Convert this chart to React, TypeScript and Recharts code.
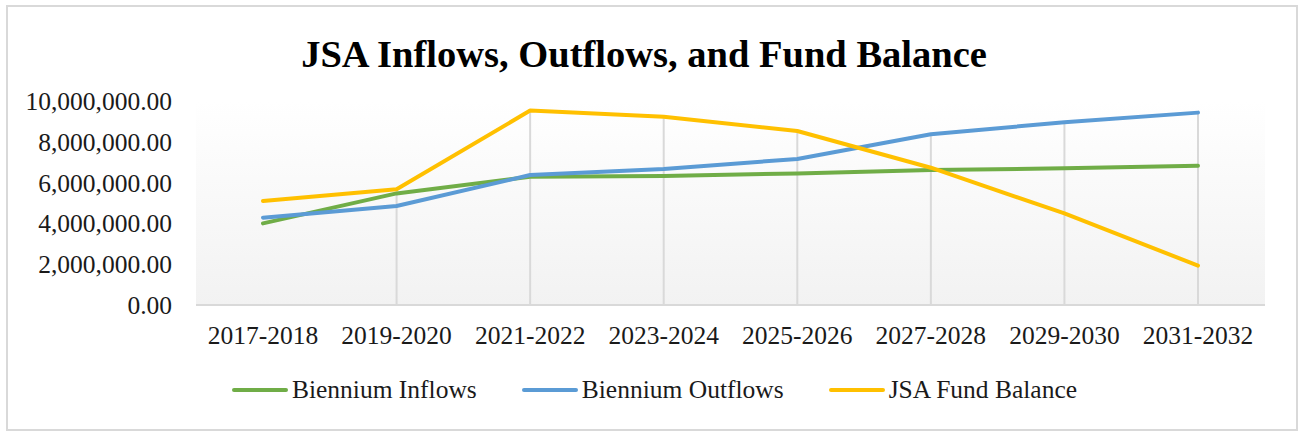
import { LineChart, Line, XAxis, YAxis, CartesianGrid, Legend, ReferenceLine } from 'recharts';

const categories = ['2017-2018', '2019-2020', '2021-2022', '2023-2024', '2025-2026', '2027-2028', '2029-2030', '2031-2032'];
const inflows = [4000000, 5470000, 6290000, 6320000, 6450000, 6620000, 6700000, 6830000];
const outflows = [4280000, 4850000, 6370000, 6670000, 7160000, 8370000, 8960000, 9430000];
const balance = [5100000, 5670000, 9530000, 9230000, 8530000, 6730000, 4490000, 1930000];
const yTicks = [0, 2000000, 4000000, 6000000, 8000000, 10000000];

const SERIES = [
  { key: 'inflows', name: 'Biennium Inflows', color: '#70ad47' },
  { key: 'outflows', name: 'Biennium Outflows', color: '#5b9bd5' },
  { key: 'balance', name: 'JSA Fund Balance', color: '#ffc000' },
];

const FONT = '"Liberation Serif", "Times New Roman", serif';

const data = categories.map((cat, i) => ({
  cat,
  inflows: inflows[i],
  outflows: outflows[i],
  balance: balance[i],
  top: Math.max(inflows[i], outflows[i], balance[i]),
}));

const fmt = (v: number) =>
  v.toLocaleString('en-US', { minimumFractionDigits: 2, maximumFractionDigits: 2 });

const renderLegend = () => (
  <div style={{ display: 'flex', justifyContent: 'center', alignItems: 'center', height: 40, fontFamily: FONT, fontSize: 25.5, color: '#1a1a1a', paddingLeft: 38 }}>
    {SERIES.map((s, i) => (
      <div key={s.key} style={{ display: 'flex', alignItems: 'center', marginLeft: i === 0 ? 0 : 45 }}>
        <svg width={56} height={10} style={{ marginRight: 4 }}>
          <line x1={2} y1={5} x2={54} y2={5} stroke={s.color} strokeWidth={4} strokeLinecap="round" />
        </svg>
        <span>{s.name}</span>
      </div>
    ))}
  </div>
);

const App = () => {
  return (
    <div style={{ position: 'absolute', left: 0, top: 0, width: 1300, height: 434, background: '#fff' }}>
      <div style={{ position: 'absolute', left: 6, top: 5, width: 1288, height: 422, border: '2px solid #d9d9d9' }} />
      <div
        style={{
          position: 'absolute', left: 0, top: 35, width: 1288, textAlign: 'center',
          fontFamily: FONT, fontWeight: 'bold', fontSize: 38.5, lineHeight: '38px', color: '#000',
        }}
      >
        JSA Inflows, Outflows, and Fund Balance
      </div>
      <div style={{ position: 'absolute', left: 0, top: 0 }}>
        <LineChart width={1300} height={434} data={data} margin={{ top: 101, right: 35, left: 6, bottom: 24 }}>
          <defs>
            <linearGradient id="plotBg" x1="0" y1="0" x2="0" y2="1">
              <stop offset="0%" stopColor="#ffffff" />
              <stop offset="100%" stopColor="#f2f2f2" />
            </linearGradient>
          </defs>
          <CartesianGrid horizontal={false} vertical={false} fill="url(#plotBg)" />
          <XAxis
            dataKey="cat"
            height={65}
            padding={{ left: 67, right: 67 }}
            axisLine={{ stroke: '#d9d9d9', strokeWidth: 2 }}
            tickLine={false}
            tickMargin={15}
            tick={{ fontFamily: FONT, fontSize: 25.5, fill: '#1a1a1a' }}
            interval={0}
          />
          <YAxis
            width={190}
            domain={[0, 10000000]}
            ticks={yTicks}
            axisLine={false}
            tickLine={false}
            tickMargin={18}
            tickFormatter={fmt}
            tick={{ fontFamily: FONT, fontSize: 25.5, fill: '#1a1a1a' }}
          />
          {data.map((d) => (
            <ReferenceLine
              key={d.cat}
              segment={[{ x: d.cat, y: 0 }, { x: d.cat, y: d.top }]}
              stroke="#d9d9d9"
              strokeWidth={2}
            />
          ))}
          <Legend verticalAlign="bottom" height={40} content={renderLegend} />
          {SERIES.map((s) => (
            <Line
              key={s.key}
              type="linear"
              dataKey={s.key}
              name={s.name}
              stroke={s.color}
              strokeWidth={4}
              strokeLinecap="round"
              strokeLinejoin="round"
              dot={false}
              activeDot={false}
              isAnimationActive={false}
            />
          ))}
        </LineChart>
      </div>
    </div>
  );
};

export default App;
